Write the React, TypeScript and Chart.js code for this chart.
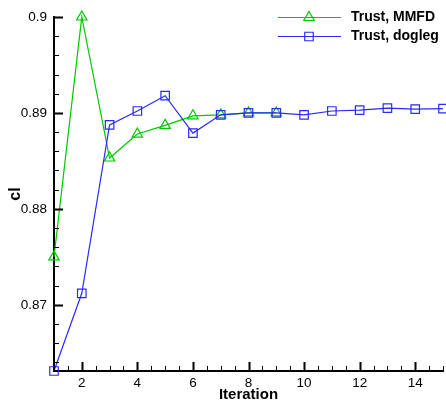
import React, { useEffect, useRef } from "react";
import { Chart, registerables } from "chart.js";

Chart.register(...registerables);

const FONT = "'Liberation Sans', Arial, Helvetica, sans-serif";

const mmfdLabel = "Trust, MMFD";
const doglegLabel = "Trust, dogleg";
const xTitle = "Iteration";
const yTitle = "cl";

const mmfdIterations = [1, 2, 3, 4, 5, 6, 7, 8, 9];
const mmfdValues = [0.875, 0.9, 0.8853, 0.8878, 0.8887, 0.8897, 0.8898, 0.89, 0.89];

const doglegIterations = [1, 2, 3, 4, 5, 6, 7, 8, 9, 10, 11, 12, 13, 14, 15];
const doglegValues = [
  0.8631, 0.8712, 0.88875, 0.8902, 0.8918, 0.8879, 0.8898, 0.89, 0.89, 0.8898,
  0.8902, 0.8903, 0.8905, 0.8904, 0.89045,
];

const xTicks = [2, 4, 6, 8, 10, 12, 14];
const yTicks = [0.87, 0.88, 0.89, 0.9];

const X_MIN = 1;
const X_MAX = 15;
const Y_MIN = 0.8631;
const Y_MAX = 0.9;

const GREEN = "#00c800";
const BLUE = "#2a2aff";

function drawMarker(ctx: CanvasRenderingContext2D, style: string, x: number, y: number, r: number) {
  ctx.beginPath();
  if (style === "triangle") {
    const h = 1.5 * r;
    const w = Math.sqrt(3) * r;
    ctx.moveTo(x, y - r);
    ctx.lineTo(x + w / 2, y - r + h);
    ctx.lineTo(x - w / 2, y - r + h);
    ctx.closePath();
  } else {
    const s = Math.SQRT1_2 * r;
    ctx.rect(x - s, y - s, 2 * s, 2 * s);
  }
  ctx.stroke();
}

const decorPlugin = {
  id: "decor",
  afterDraw(chart: any) {
    const { ctx, chartArea, scales } = chart;
    const xs = scales.x;
    const ys = scales.y;
    ctx.save();
    ctx.strokeStyle = "#000";
    // inward x ticks: majors at labelled values, minors every 0.5
    for (let i = 2; i <= 30; i++) {
      const v = i / 2;
      const px = Math.round(xs.getPixelForValue(v)) + 0.5;
      const major = xTicks.includes(v);
      ctx.lineWidth = major ? 2 : 1;
      const len = major ? 9 : 5;
      ctx.beginPath();
      ctx.moveTo(px, chartArea.bottom);
      ctx.lineTo(px, chartArea.bottom - len);
      ctx.stroke();
    }
    // inward y ticks: majors at labelled values, minors every 0.002
    for (let i = 432; i <= 450; i++) {
      const v = i / 500;
      if (v < Y_MIN) continue;
      const py = Math.round(ys.getPixelForValue(v)) + 0.5;
      const major = yTicks.some((t) => Math.abs(t - v) < 1e-9);
      ctx.lineWidth = major ? 2 : 1;
      const len = major ? 9 : 5;
      ctx.beginPath();
      ctx.moveTo(chartArea.left, py);
      ctx.lineTo(chartArea.left + len, py);
      ctx.stroke();
    }
    // axis titles
    ctx.fillStyle = "#000";
    ctx.font = `bold 15px ${FONT}`;
    ctx.textAlign = "center";
    ctx.textBaseline = "middle";
    ctx.fillText(xTitle, (chartArea.left + chartArea.right) / 2, 395);
    ctx.save();
    ctx.translate(16, (chartArea.top + chartArea.bottom) / 2);
    ctx.rotate(-Math.PI / 2);
    ctx.font = `bold 16px ${FONT}`;
    ctx.fillText(yTitle, 0, 0);
    ctx.restore();
    // legend
    const entries = [
      { label: mmfdLabel, color: GREEN, style: "triangle", y: 17 },
      { label: doglegLabel, color: BLUE, style: "rect", y: 36 },
    ];
    for (const e of entries) {
      ctx.strokeStyle = e.color;
      ctx.lineWidth = 1.2;
      ctx.beginPath();
      ctx.moveTo(278, e.y + 0.5);
      ctx.lineTo(341, e.y + 0.5);
      ctx.stroke();
      drawMarker(ctx, e.style, 309, e.y + 0.5, 6);
      ctx.fillStyle = "#000";
      ctx.font = `bold 14px ${FONT}`;
      ctx.textAlign = "left";
      ctx.textBaseline = "middle";
      ctx.fillText(e.label, 351, e.y);
    }
    ctx.restore();
  },
};

export default function App() {
  const canvasRef = useRef<HTMLCanvasElement | null>(null);

  useEffect(() => {
    document.body.style.margin = "0";
    const canvas = canvasRef.current;
    if (!canvas) return;
    const chart = new Chart(canvas, {
      type: "line",
      data: {
        datasets: [
          {
            label: doglegLabel,
            data: doglegIterations.map((x, i) => ({ x, y: doglegValues[i] })),
            borderColor: BLUE,
            borderWidth: 1.2,
            pointStyle: "rect",
            pointRadius: 6,
            pointBorderWidth: 1.2,
            pointBorderColor: BLUE,
            pointBackgroundColor: "rgba(0,0,0,0)",
            clip: false as any,
            order: 0,
          },
          {
            label: mmfdLabel,
            data: mmfdIterations.map((x, i) => ({ x, y: mmfdValues[i] })),
            borderColor: GREEN,
            borderWidth: 1.2,
            pointStyle: "triangle",
            pointRadius: 6,
            pointBorderWidth: 1.2,
            pointBorderColor: GREEN,
            pointBackgroundColor: "rgba(0,0,0,0)",
            clip: false as any,
            order: 1,
          },
        ],
      },
      options: {
        animation: false,
        responsive: false,
        devicePixelRatio: 1,
        layout: { autoPadding: false, padding: { top: 17, right: 3, left: 0, bottom: 0 } },
        plugins: { legend: { display: false }, tooltip: { enabled: false } },
        scales: {
          x: {
            type: "linear",
            min: X_MIN,
            max: X_MAX,
            grid: { display: false, drawTicks: false },
            border: { display: true, color: "#000", width: 2 },
            ticks: {
              color: "#000",
              font: { family: FONT, size: 13.5 },
              padding: 4,
              maxRotation: 0,
              callback: (v: any) => String(v),
            },
            afterBuildTicks: (scale: any) => {
              scale.ticks = xTicks.map((v) => ({ value: v }));
            },
            afterFit: (scale: any) => {
              scale.height = 34;
              scale.paddingLeft = 0;
              scale.paddingRight = 0;
            },
          },
          y: {
            type: "linear",
            min: Y_MIN,
            max: Y_MAX,
            grid: { display: false, drawTicks: false },
            border: { display: true, color: "#000", width: 2 },
            ticks: {
              color: "#000",
              font: { family: FONT, size: 13.5 },
              padding: 7,
              callback: (v: any) => String(Number(Number(v).toFixed(3))),
            },
            afterBuildTicks: (scale: any) => {
              scale.ticks = yTicks.map((v) => ({ value: v }));
            },
            afterFit: (scale: any) => {
              scale.width = 54;
              scale.paddingTop = 0;
              scale.paddingBottom = 0;
            },
          },
        },
      },
      plugins: [decorPlugin],
    });
    return () => chart.destroy();
  }, []);

  return (
    <div style={{ width: 446, height: 405 }}>
      <canvas ref={canvasRef} width={446} height={405} style={{ display: "block" }} />
    </div>
  );
}
